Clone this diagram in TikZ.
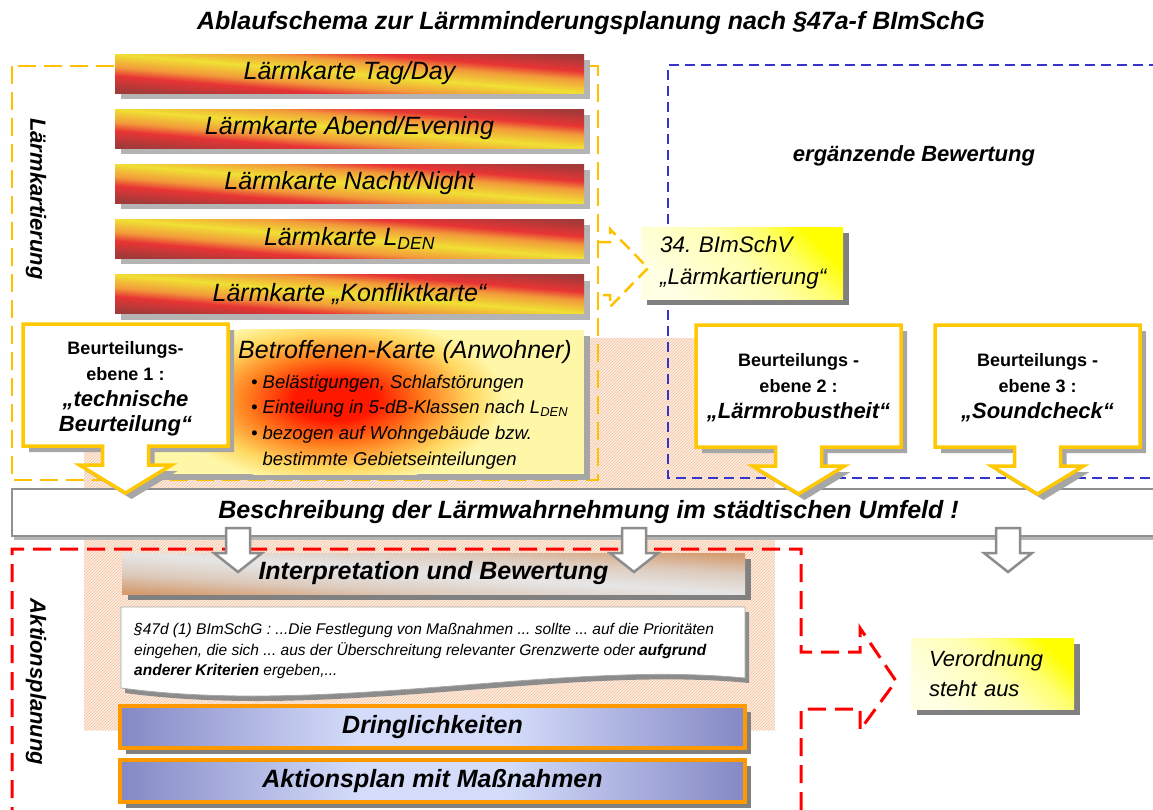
\documentclass[tikz,border=0pt]{standalone}
\usepackage{fontspec}
\setmainfont{Liberation Sans}
\usetikzlibrary{shadows,patterns}
\frenchspacing

\newcommand\fsz[2]{\fontsize{#1}{#2}\selectfont}

% colours
\definecolor{frameGold}{HTML}{FFC000}
\definecolor{calloutGold}{HTML}{FFC800}
\definecolor{frameBlue}{HTML}{3434CC}
\definecolor{frameRed}{HTML}{FF0000}
\definecolor{edgeOrange}{HTML}{FF9900}
\definecolor{hatchBg}{HTML}{FDEDE1}
\definecolor{hatchLine}{HTML}{F2C29E}
\definecolor{barShadow}{HTML}{B4B4B4}
\definecolor{softShadow}{HTML}{A6A6A6}
\definecolor{darkShadow}{HTML}{808080}
\definecolor{barEdge}{HTML}{909090}
\definecolor{arrowGrey}{HTML}{8C8C8C}
\definecolor{quoteEdge}{HTML}{A8A8A8}

% heat-map bands: yellow along the box diagonal, dark red in the far corners
\definecolor{hbYellow}{HTML}{F0E034}
\definecolor{hbOrange}{HTML}{F29A3A}
\definecolor{hbRed}{HTML}{E83434}
\definecolor{hbDark}{HTML}{A33A3A}
\pgfdeclareverticalshading{heatband}{100bp}{color(0bp)=(hbDark); color(25bp)=(hbDark); color(35bp)=(hbRed); color(41bp)=(hbOrange); color(50bp)=(hbYellow); color(59bp)=(hbOrange); color(65bp)=(hbRed); color(75bp)=(hbDark); color(100bp)=(hbDark)}

\definecolor{ivGrey}{HTML}{E6E6E6}
\definecolor{ivMid}{HTML}{DDCBBD}
\definecolor{ivTan}{HTML}{D49C70}
\pgfdeclareverticalshading{greytan}{100bp}{color(0bp)=(ivTan); color(25bp)=(ivTan); color(37bp)=(ivMid); color(50bp)=(ivGrey); color(63bp)=(ivMid); color(75bp)=(ivTan); color(100bp)=(ivTan)}

\definecolor{liEdge}{HTML}{8488C4}
\definecolor{liMid}{HTML}{D4DCFA}
\pgfdeclarehorizontalshading{lilac}{100bp}{color(0bp)=(liEdge); color(25bp)=(liEdge); color(44bp)=(liMid); color(56bp)=(liMid); color(75bp)=(liEdge); color(100bp)=(liEdge)}

\definecolor{glA}{HTML}{FFFFE4}
\definecolor{glB}{HTML}{FFFFB4}
\definecolor{glM}{HTML}{FFFF6C}
\definecolor{glC}{HTML}{FFFF00}
\pgfdeclareverticalshading{cornerglow}{100bp}{color(0bp)=(glA); color(25bp)=(glA); color(50bp)=(glB); color(64bp)=(glM); color(75bp)=(glC); color(100bp)=(glC)}

\definecolor{bRed}{HTML}{FF1800}
\definecolor{bOrange}{HTML}{FF7C1C}
\definecolor{bYellow}{HTML}{FFD860}
\definecolor{bPale}{HTML}{FFF7A8}
\pgfdeclareradialshading{redblob}{\pgfpoint{0bp}{0bp}}{color(0bp)=(bRed); color(6bp)=(bRed); color(13bp)=(bOrange); color(20bp)=(bYellow); color(25bp)=(bPale); color(50bp)=(bPale)}

\tikzset{
  framegold/.style={draw=frameGold, line width=2.5pt, dash pattern=on 18pt off 8pt},
  arrowgold/.style={draw=frameGold, line width=2.5pt, dash pattern=on 13pt off 7pt},
  frameblue/.style={draw=frameBlue, line width=2.5pt, dash pattern=on 10pt off 6pt},
  framered/.style={draw=frameRed, line width=3pt, dash pattern=on 18pt off 9pt},
  heatbar/.style={shade, shading=heatband, shading angle=-4.75, minimum width=469pt,
    minimum height=39pt, inner sep=0pt, font=\fsz{25}{30}\itshape,
    general shadow={fill=barShadow, shadow xshift=6pt, shadow yshift=-6pt}},
  glowbox/.style={shade, shading=cornerglow, shading angle=-45, inner sep=0pt,
    general shadow={fill=darkShadow, shadow xshift=6pt, shadow yshift=-6pt}},
  betrbox/.style={fill=bPale, minimum width=434pt, minimum height=144pt, inner sep=0pt,
    general shadow={fill=softShadow, shadow xshift=6pt, shadow yshift=-6pt}},
  descbar/.style={draw=barEdge, line width=2pt, fill=white, minimum width=1153pt,
    minimum height=47pt, inner sep=0pt, font=\fsz{25}{30}\bfseries\itshape,
    general shadow={fill=barShadow, shadow xshift=2pt, shadow yshift=-4pt}},
  calloutline/.style={draw=calloutGold, line width=3.5pt, fill=white,
    general shadow={fill=softShadow, shadow xshift=6pt, shadow yshift=-6pt}},
  hollowarrow/.style={draw=arrowGrey, line width=2.5pt, fill=white},
  interpbox/.style={shade, shading=greytan, shading angle=-3.77, minimum width=623pt,
    minimum height=41pt, inner sep=0pt, font=\fsz{25}{30}\bfseries\itshape,
    general shadow={fill=darkShadow, shadow xshift=6pt, shadow yshift=-6pt}},
  quotebox/.style={draw=quoteEdge, line width=0.8pt, fill=white,
    general shadow={fill=arrowGrey, shadow xshift=4pt, shadow yshift=-5pt}},
  lilacbox/.style={shade, shading=lilac, draw=edgeOrange, line width=3.5pt,
    minimum width=625pt, minimum height=42pt, inner sep=0pt,
    font=\fsz{25}{30}\bfseries\itshape,
    general shadow={fill=darkShadow, shadow xshift=6pt, shadow yshift=-6pt}},
  smallbold/.style={font=\fsz{18}{22}\bfseries},
  bigbold/.style={font=\fsz{22}{26}\bfseries\itshape},
  sidelabel/.style={rotate=-90, font=\fsz{22}{26}\bfseries\itshape},
  pics/assessment/.style={code={
    \draw[calloutline] (-102.5,0) -- (102.5,0) -- (102.5,122) -- (23,122) -- (23,141)
      -- (46,141) -- (0,169) -- (-46,141) -- (-23,141) -- (-23,122) -- (-102.5,122) -- cycle;
  }},
  pics/sinkarrow/.style={code={
    \draw[hollowarrow] (-12,0) -- (12,0) -- (12,25) -- (24,25) -- (0,44) -- (-24,25)
      -- (-12,25) -- cycle;
  }}
}

\begin{document}
\begin{tikzpicture}[x=1pt,y=-1pt]
\useasboundingbox (0,0) rectangle (1153,809);

% hatched backdrop
\fill[hatchBg] (84,338) rectangle (775,730);
\fill[pattern=north east lines, pattern color=hatchLine] (84,338) rectangle (775,730);

% dashed frames of the upper part
\draw[framegold] (12,66) rectangle (598,480);
\draw[frameblue] (1175,65) -- (668,65) -- (668,478) -- (1175,478);

% noise maps
\node[heatbar] (mapday) at (349.5,73.5) {Lärmkarte Tag/Day};
\node[heatbar] (mapevening) at (349.5,128.5) {Lärmkarte Abend/Evening};
\node[heatbar] (mapnight) at (349.5,183.5) {Lärmkarte Nacht/Night};
\node[heatbar] (mapden) at (349.5,238.5) {Lärmkarte L\textsubscript{DEN}};
\node[heatbar] (mapconflict) at (349.5,294) {Lärmkarte „Konfliktkarte“};

% ordinance box with dashed pointer
\node[glowbox, minimum width=202pt, minimum height=72pt, text width=164pt, align=left,
  font=\fsz{22.5}{32}\itshape] (bim) at (742,263) {34. BImSchV\\„Lärmkartierung“};
\draw[arrowgold] (598,242) -- (610,242) -- (610,229) -- (648,268) -- (610,307)
  -- (610,295) -- (598,295);

% affected residents map
\node[betrbox] (betr) at (367,402) {};
\begin{scope}
  \clip (betr.north west) rectangle (betr.south east);
  \shade[shading=redblob] (335,400) ellipse [x radius=170pt, y radius=85pt];
\end{scope}
\node[font=\fsz{25}{30}\itshape] (betrtitle) at (405,352) {Betroffenen-Karte (Anwohner)};
\node[anchor=west, inner sep=0pt, font=\fsz{18.5}{25.7}\itshape] (betrlist) at (251,421.5)
  {\begin{tabular}{@{}l@{\hspace{5pt}}l@{}}
    \textbullet & Belästigungen, Schlafstörungen\\
    \textbullet & Einteilung in 5-dB-Klassen nach L\textsubscript{DEN}\\
    \textbullet & bezogen auf Wohngebäude bzw.\\
                & bestimmte Gebietseinteilungen
   \end{tabular}};

% supplementary assessment
\node[font=\fsz{22}{26}\bfseries\itshape] (extra) at (914,156) {ergänzende Bewertung};

% perception bar
\node[descbar] (percept) at (588.5,512.5) {Beschreibung der Lärmwahrnehmung im städtischen Umfeld !};

% assessment levels
\pic (lvlone) at (125.5,324) {assessment};
\pic (lvltwo) at (798.5,325) {assessment};
\pic (lvlthree) at (1037.5,325) {assessment};
\node[smallbold] (l1a) at (125.5,350) {Beurteilungs-};
\node[smallbold] (l1b) at (125.5,374) {ebene 1 :};
\node[bigbold] (l1c) at (125.5,400) {„technische};
\node[bigbold] (l1d) at (125.5,426) {Beurteilung“};
\node[smallbold] (l2a) at (798.5,362) {Beurteilungs -};
\node[smallbold] (l2b) at (798.5,386) {ebene 2 :};
\node[bigbold] (l2c) at (798.5,412) {„Lärmrobustheit“};
\node[smallbold] (l3a) at (1037.5,362) {Beurteilungs -};
\node[smallbold] (l3b) at (1037.5,386) {ebene 3 :};
\node[bigbold] (l3c) at (1037.5,412) {„Soundcheck“};

% action planning frame with outgoing dashed arrow
\draw[framered] (12,825) -- (12,549) -- (801,549) -- (801,652) -- (860,652) -- (860,628)
  -- (896,681) -- (860,730) -- (860,709) -- (801,709) -- (801,825);

% action planning steps
\node[interpbox] (interp) at (433.5,573.5) {Interpretation und Bewertung};
\draw[quotebox] (121,607) -- (745,607) -- (745,678) .. controls (560,660) and (330,716) .. (121,688) -- cycle;
\node[anchor=west, align=left, inner sep=0pt, font=\fsz{15.5}{20.5}\itshape] (quote) at (134,651)
  {§47d (1) BImSchG : ...Die Festlegung von Maßnahmen ... sollte ... auf die Prioritäten\\
   eingehen, die sich ... aus der Überschreitung relevanter Grenzwerte oder \textbf{aufgrund}\\
   \textbf{anderer Kriterien} ergeben,...};
\node[lilacbox] (urgency) at (432.5,727) {Dringlichkeiten};
\node[lilacbox] (actionplan) at (432.5,781) {Aktionsplan mit Maßnahmen};

% hollow arrows below the perception bar
\pic (downa) at (238,528) {sinkarrow};
\pic (downb) at (634,528) {sinkarrow};
\pic (downc) at (1008,528) {sinkarrow};

% pending ordinance
\node[glowbox, minimum width=163pt, minimum height=71pt, text width=127pt, align=left,
  font=\fsz{22}{30}\itshape] (pending) at (992.5,673.5) {Verordnung\\steht aus};

% title and side labels
\node[font=\fsz{25}{30}\bfseries\itshape] (title) at (591,23)
  {Ablaufschema zur Lärmminderungsplanung nach §47a-f BImSchG};
\node[sidelabel] (mapping) at (36,199) {Lärmkartierung};
\node[sidelabel] (planning) at (36,682) {Aktionsplanung};
\end{tikzpicture}
\end{document}
